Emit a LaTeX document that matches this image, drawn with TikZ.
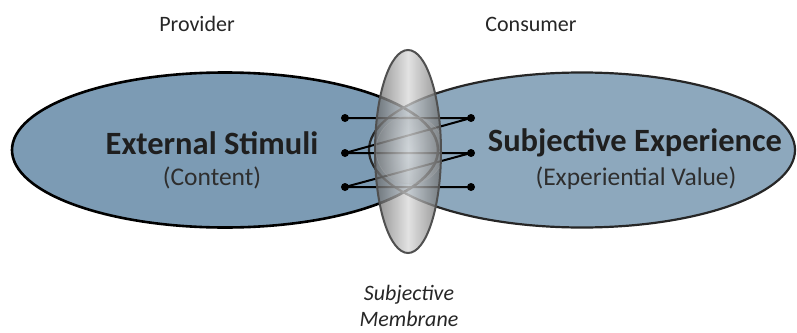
\documentclass[tikz,border=0pt]{standalone}
\usepackage{fontspec}
\setmainfont{Carlito}
\usetikzlibrary{shapes.geometric}
\definecolor{leftfill}{RGB}{124,155,180}
\definecolor{rightfill}{RGB}{141,168,189}
\definecolor{memedge}{RGB}{80,80,80}
\begin{document}
\begin{tikzpicture}[x=1pt,y=-1pt,
  oval/.style={ellipse, minimum width=426pt, minimum height=155pt, inner sep=0pt},
  dot/.style={circle, fill=black, minimum size=8pt, inner sep=0pt},
  link/.style={line width=2pt, black, line join=round},
  maintext/.style={font=\fontsize{32.5}{36}\selectfont\bfseries, text=black!88},
  subtext/.style={font=\fontsize{25.5}{28}\selectfont, text=black!82},
  label/.style={font=\fontsize{22}{24}\selectfont, text=black!85}]
\useasboundingbox (0,0) rectangle (797,332);
% ellipses
\node[oval, fill=leftfill] (ext) at (225,150) {};
\node[oval, fill=rightfill] (subj) at (582,150) {};
\draw[line width=2.6pt, black] (ext.center) ellipse [x radius=213, y radius=77.5];
\draw[line width=2.2pt, black!85] (subj.center) ellipse [x radius=213, y radius=77.5];
% texts
\node[maintext] (t1) at (212,143) {External Stimuli};
\node[subtext] (t1b) at (212,178) {(Content)};
\node[maintext] (t2) at (635,143) {Subjective Experience};
\node[subtext] (t2b) at (636,178) {(Experiential Value)};
\node[label] (prov) at (197,24) {Provider};
\node[label] (cons) at (531,24) {Consumer};
\node[label, font=\fontsize{22}{26}\selectfont\itshape, align=center, inner sep=1pt] (memlab) at (409,306) {Subjective\\Membrane};
% connectors
\node[dot] (L1) at (345,118) {};
\node[dot] (L2) at (345,153) {};
\node[dot] (L3) at (345,187) {};
\node[dot] (R1) at (471,118) {};
\node[dot] (R2) at (471,153) {};
\node[dot] (R3) at (471,187) {};
\draw[link] (L1.center) -- (R1.center) -- (L2.center) -- (R2.center) -- (L3.center) -- (R3.center);
% membrane
\node[ellipse, minimum width=66pt, minimum height=203pt, inner sep=0pt] (mem) at (408,151.5) {};
\shade[left color=gray!80!black, right color=gray!85!black, middle color=gray!30, fill opacity=0.75]
  (mem.center) ellipse [x radius=33, y radius=101.5];
\begin{scope}
  \clip (mem.center) ellipse [x radius=33, y radius=101.5];
  \shade[inner color=white, outer color=gray!60, fill opacity=0.18] (410,150) circle [radius=34];
  \draw[gray!60, line width=0.6pt, opacity=0.35] (410,150) circle [radius=34];
\end{scope}
\draw[memedge, line width=2pt] (mem.center) ellipse [x radius=33, y radius=101.5];
\end{tikzpicture}
\end{document}
